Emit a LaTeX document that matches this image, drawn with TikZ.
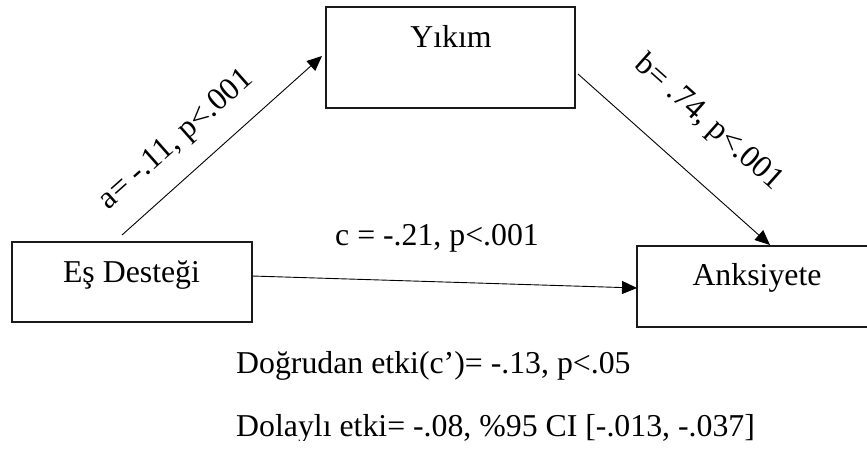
\documentclass[tikz,border=0pt]{standalone}
\usepackage{fontspec}
\setmainfont{Liberation Serif}
\usetikzlibrary{arrows.meta}
\begin{document}
\begin{tikzpicture}[x=1pt,y=-1pt,
  box/.style={draw=black!90, line width=1.2pt, inner sep=0pt, rectangle},
  txt/.style={inner sep=0pt, font=\fontsize{31.8}{38}\selectfont},
  arr/.style={draw=black, line width=0.9pt, -{Triangle[length=15pt,width=13pt]}}]
\clip (0,0) rectangle (867,450);
\fill[white] (0,0) rectangle (867,450);
% boxes
\node[box, minimum width=249pt, minimum height=101pt] (yikim) at (450.5,57.5) {};
\node[box, minimum width=240pt, minimum height=80pt] (es) at (132,282) {};
\node[box, minimum width=240pt, minimum height=81pt] (anks) at (757,286.5) {};
% box texts
\node[txt, anchor=base] (yikimT) at (451,47) {Yıkım};
\node[txt, anchor=base] (esT) at (131.5,282) {Eş Desteği};
\node[txt, anchor=base] (anksT) at (757,285) {Anksiyete};
% connector end points
\coordinate (aS) at (122,235);
\coordinate (aE) at (322,56);
\coordinate (bS) at (578,74);
\coordinate (bE) at (770,245);
\coordinate (cS) at (252,276);
\coordinate (cE) at (637,288);
\draw[arr] (aS) -- (aE);
\draw[arr] (bS) -- (bE);
\draw[arr] (cS) -- (cE);
% labels
\node[txt, anchor=base west, rotate=41.5] (aL) at (108.8,210.3) {a= -.11, p<.001};
\node[txt, anchor=base west, rotate=-41.7] (bL) at (633.8,66.6) {b= .74, p<.001};
\node[txt, anchor=base west] (cL) at (335,245) {c = -.21, p<.001};
% bottom texts
\begin{scope}
\clip (0,0) rectangle (867,440);
\node[txt, anchor=base west] (direct) at (236,373) {Doğrudan etki(c’)= -.13, p<.05};
\node[txt, anchor=base west] (indirect) at (236,436) {Dolaylı etki= -.08, \%95 CI [-.013, -.037]};
\end{scope}
\end{tikzpicture}
\end{document}
